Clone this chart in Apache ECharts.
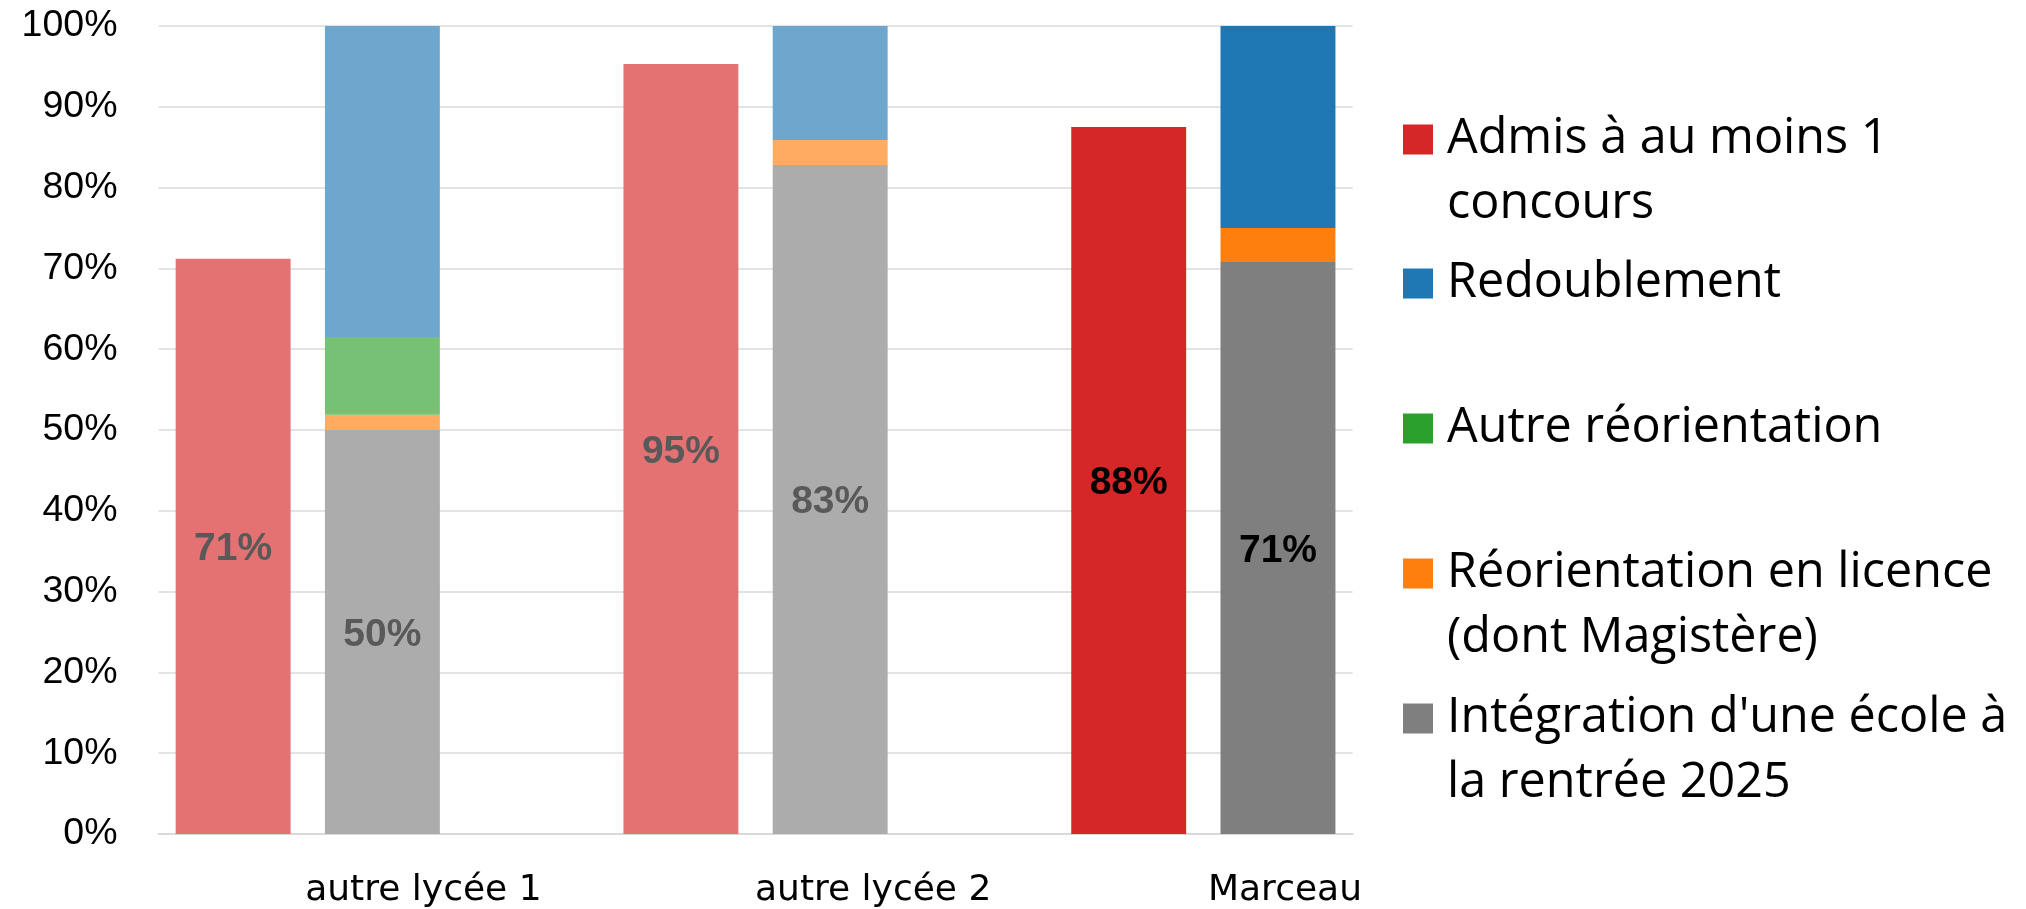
<!DOCTYPE html>
<html>
<head>
<meta charset="utf-8">
<script src="https://cdn.jsdelivr.net/npm/echarts@6/dist/echarts.min.js"></script>
<style>
html,body{margin:0;padding:0;background:#fff;}
#chart{width:2026px;height:909px;}
</style>
</head>
<body>
<div id="chart"></div>
<script>
// ---- data (8 slots: school pairs separated by empty slots) ----
const categories = ['', 'autre lycée 1', '', '', 'autre lycée 2', '', '', 'Marceau'];
const labelShift = [0, 41, 0, 0, 43, 0, 0, 7];
const faded = [true, true, false, true, true, false, false, false];
const admis        = [71.2, null, null, 95.3, null, null, 87.5, null];
const integration  = [null, 50.0, null, null, 82.8, null, null, 70.8];
const licence      = [null, 1.9,  null, null, 3.1,  null, null, 4.2];
const autreReo     = [null, 9.6,  null, null, 0,    null, null, 0];
const redoublement = [null, 38.5, null, null, 14.1, null, null, 25.0];
const yTicks = [0, 10, 20, 30, 40, 50, 60, 70, 80, 90, 100];

const seriesNames = [
  'Admis à au moins 1 concours',
  'Redoublement',
  'Autre réorientation',
  'Réorientation en licence (dont Magistère)',
  "Intégration d'une école à la rentrée 2025"
];
const legendTexts = [
  '\nAdmis à au moins 1\nconcours',
  '\nRedoublement\n',
  '\nAutre réorientation\n',
  '\nRéorientation en licence\n(dont Magistère)',
  "\nIntégration d'une école à\nla rentrée 2025"
];
const fullColors  = ['#D62728', '#1F77B4', '#2CA02C', '#FF7F0E', '#7F7F7F'];
const lightColors = ['#E47273', '#6DA7CE', '#76C176', '#FFAC62', '#ACACAC'];

function items(values, ci, withLabel) {
  return values.map((v, i) => {
    if (v === null) return null;
    const it = { value: v, itemStyle: { color: faded[i] ? lightColors[ci] : fullColors[ci] } };
    if (withLabel) it.label = { color: faded[i] ? '#595959' : '#000000' };
    return it;
  });
}

const labelCfg = {
  show: true,
  position: 'inside',
  offset: [0, 3],
  fontFamily: "'Liberation Sans', Arial, sans-serif",
  fontWeight: 'bold',
  fontSize: 39,
  formatter: p => Math.round(p.value) + '%'
};

const chart = echarts.init(document.getElementById('chart'), null, { renderer: 'canvas' });

const legendCenters = [138, 282, 427, 572, 717];
const legends = seriesNames.map((n, i) => ({
  data: [n],
  left: 1403,
  top: legendCenters[i] - 97.5,
  orient: 'vertical',
  padding: 0,
  icon: 'rect',
  itemWidth: 30,
  itemHeight: 30,
  selectedMode: false,
  formatter: () => legendTexts[i],
  textStyle: {
    fontFamily: "'Open Sans', sans-serif",
    fontSize: 48.5,
    lineHeight: 65,
    color: '#000',
    padding: [3, 0, 0, 9]
  }
}));

const xLabelStyle = {
  fontFamily: "'DejaVu Sans', sans-serif",
  fontSize: 36,
  color: '#000'
};

const option = {
  backgroundColor: '#fff',
  animation: false,
  legend: legends,
  grid: { left: 158.5, right: 673.4, top: 26, bottom: 75, containLabel: false },
  xAxis: {
    type: 'category',
    data: categories.map((c, i) => ({
      value: c,
      textStyle: Object.assign({}, xLabelStyle, { padding: [0, 0, 0, labelShift[i] * 2] })
    })),
    axisTick: { show: false },
    axisLine: { show: true, lineStyle: { color: '#d9d9d9', width: 2 } },
    axisLabel: Object.assign({ interval: 0, margin: 39 }, xLabelStyle)
  },
  yAxis: {
    type: 'value',
    min: yTicks[0],
    max: yTicks[yTicks.length - 1],
    interval: 10,
    axisLine: { show: false },
    axisTick: { show: false },
    splitLine: { lineStyle: { color: '#e3e3e3', width: 2 } },
    axisLabel: {
      margin: 41,
      formatter: '{value}%',
      fontFamily: "'Liberation Sans', Arial, sans-serif",
      fontSize: 37.5,
      color: '#000'
    }
  },
  series: [
    { name: seriesNames[0], type: 'bar', stack: 's', barCategoryGap: '23%',
      itemStyle: { color: fullColors[0] }, label: labelCfg, data: items(admis, 0, true) },
    { name: seriesNames[4], type: 'bar', stack: 's', barCategoryGap: '23%',
      itemStyle: { color: fullColors[4] }, label: labelCfg, data: items(integration, 4, true) },
    { name: seriesNames[3], type: 'bar', stack: 's', barCategoryGap: '23%',
      itemStyle: { color: fullColors[3] }, data: items(licence, 3, false) },
    { name: seriesNames[2], type: 'bar', stack: 's', barCategoryGap: '23%',
      itemStyle: { color: fullColors[2] }, data: items(autreReo, 2, false) },
    { name: seriesNames[1], type: 'bar', stack: 's', barCategoryGap: '23%',
      itemStyle: { color: fullColors[1] }, data: items(redoublement, 1, false) }
  ]
};
chart.setOption(option);
</script>
</body>
</html>
